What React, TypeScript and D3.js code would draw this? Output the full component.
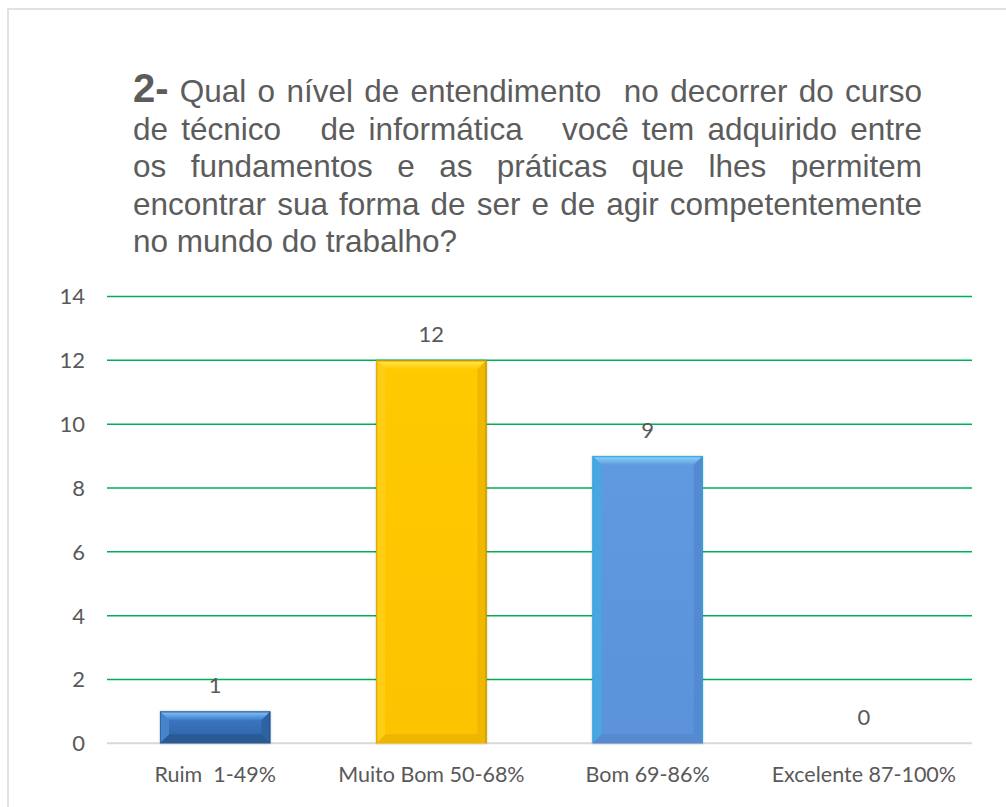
import React, { useEffect, useRef } from "react";
import * as d3 from "d3";

const categories = ["Ruim  1-49%", "Muito Bom 50-68%", "Bom 69-86%", "Excelente 87-100%"];
const values = [1, 12, 9, 0];
const yTicks = [0, 2, 4, 6, 8, 10, 12, 14];
const titleBold = "2-";
const titleLines = [
  " Qual o nível de entendimento  no decorrer do curso",
  "de técnico   de informática   você tem adquirido entre",
  "os fundamentos e as práticas que lhes permitem",
  "encontrar sua forma de ser e de agir competentemente",
  "no mundo do trabalho?",
];

const barStyles = [
  { main: "#3c7ac6", mainDark: "#2f63a6", top: "#74b8f3", left: "#4584cc", right: "#2f64a3", bottom: "#2b5a94", edge: "#22508a" },
  { main: "#ffca06", mainDark: "#fcc300", top: "#ffe23c", left: "#ffcd12", right: "#f0b700", bottom: "#eeb600", edge: "#b88c00" },
  { main: "#5f99e0", mainDark: "#5b93da", top: "#86cbf5", left: "#4aa6e2", right: "#548ad2", bottom: "#5689cd", edge: "#1ea9dd" },
  { main: "#5f99e0", mainDark: "#5b93da", top: "#86cbf5", left: "#4aa6e2", right: "#548ad2", bottom: "#5689cd", edge: "#1ea9dd" },
];

const W = 1006;
const H = 807;
const plotLeft = 107;
const plotRight = 972;
const plotTop = 296.5;
const plotBottom = 743.3;
const titleX = 133;
const titleRight = 922;
const titleBase = 102;
const titleStep = 37.5;
const chartFont = "Lato, 'Open Sans', sans-serif";
const textColor = "#595959";

export default function App() {
  const titleRef = useRef<SVGGElement>(null);

  const x = d3.scaleBand<string>().domain(categories).range([plotLeft, plotRight]).paddingInner(0.49).paddingOuter(0.245);
  const y = d3.scaleLinear().domain([0, 14]).range([plotBottom, plotTop]);

  useEffect(() => {
    const g = d3.select(titleRef.current);
    g.selectAll("*").remove();
    titleLines.forEach((line, i) => {
      const t = g
        .append("text")
        .attr("x", titleX)
        .attr("y", titleBase + i * titleStep)
        .attr("fill", "#5c5c5c")
        .style("white-space", "pre")
        .attr("font-family", "'Liberation Sans', Arial, sans-serif")
        .attr("font-size", 31.5);
      if (i === 0) {
        t.append("tspan").attr("font-weight", "bold").attr("font-size", 40).text(titleBold);
      }
      t.append("tspan").text(line);
      if (i < titleLines.length - 1) {
        const node = t.node() as SVGTextElement;
        const len = node.getComputedTextLength();
        const nSpaces = (line.match(/ /g) || []).length;
        const extra = (titleRight - titleX - len) / nSpaces;
        t.attr("word-spacing", extra);
      }
    });
  }, []);

  const bw = x.bandwidth();

  return (
    <svg width={W} height={H} style={{ position: "absolute", left: 0, top: 0, background: "#fff" }}>
      <defs>
        <filter id="shadow" x="-10%" y="-10%" width="120%" height="120%">
          <feDropShadow dx="0" dy="0" stdDeviation="1.2" floodColor="#000" floodOpacity="0.25" />
        </filter>
        {barStyles.map((s, i) => (
          <linearGradient key={i} id={`g${i}`} x1="0" y1="0" x2="0" y2="1">
            <stop offset="0" stopColor={s.main} />
            <stop offset="1" stopColor={s.mainDark} />
          </linearGradient>
        ))}
        {barStyles.map((s, i) => (
          <linearGradient key={i} id={`t${i}`} x1="0" y1="0" x2="0" y2="1">
            <stop offset="0" stopColor={s.edge} />
            <stop offset="0.2" stopColor={s.top} />
            <stop offset="1" stopColor={s.main} />
          </linearGradient>
        ))}
      </defs>
      <rect x={8} y={9} width={W + 10} height={H + 10} fill="#fff" stroke="#d9d9d9" strokeWidth={1.5} />
      <g ref={titleRef} />
      {yTicks.map((t) =>
        t === 0 ? null : (
          <line key={t} x1={plotLeft} x2={plotRight} y1={y(t)} y2={y(t)} stroke="#00b050" strokeWidth={1.5} />
        )
      )}
      <line x1={plotLeft} x2={plotRight} y1={y(0)} y2={y(0)} stroke="#d9d9d9" strokeWidth={2} />
      {yTicks.map((t) => (
        <text key={t} x={85} y={y(t)} dy="0.36em" textAnchor="end" fontFamily={chartFont} fontSize={22} fill={textColor}>
          {t}
        </text>
      ))}
      {categories.map((c, i) => {
        const v = values[i];
        const x0 = x(c) as number;
        const x1 = x0 + bw;
        const y0 = y(v);
        const y1 = y(0);
        const h = y1 - y0;
        const s = barStyles[i];
        const b = Math.min(9, h / 2);
        return (
          <g key={c}>
            {h > 0 && (
              <g filter="url(#shadow)">
                <rect x={x0} y={y0} width={bw} height={h} fill={`url(#g${i})`} />
                <polygon points={`${x0},${y0} ${x1},${y0} ${x1 - b},${y0 + b} ${x0 + b},${y0 + b}`} fill={`url(#t${i})`} />
                <polygon points={`${x1},${y0} ${x1},${y1} ${x1 - b},${y1 - b} ${x1 - b},${y0 + b}`} fill={s.right} />
                <polygon points={`${x0},${y1} ${x1},${y1} ${x1 - b},${y1 - b} ${x0 + b},${y1 - b}`} fill={s.bottom} />
                <polygon points={`${x0},${y0} ${x0 + b},${y0 + b} ${x0 + b},${y1 - b} ${x0},${y1}`} fill={s.left} />
                <line x1={x1 - 0.5} x2={x1 - 0.5} y1={y0} y2={y1} stroke={s.edge} strokeWidth={1} />
                <line x1={x0 + 0.5} x2={x0 + 0.5} y1={y0} y2={y1} stroke={s.edge} strokeWidth={1} strokeOpacity={0.6} />
              </g>
            )}
            <text x={x0 + bw / 2} y={y0 - 18} textAnchor="middle" fontFamily={chartFont} fontSize={22} fill={textColor}>
              {v}
            </text>
            <text x={x0 + bw / 2} y={782} textAnchor="middle" fontFamily={chartFont} fontSize={21.5} fill={textColor} style={{ whiteSpace: "pre" }}>
              {c}
            </text>
          </g>
        );
      })}
    </svg>
  );
}
